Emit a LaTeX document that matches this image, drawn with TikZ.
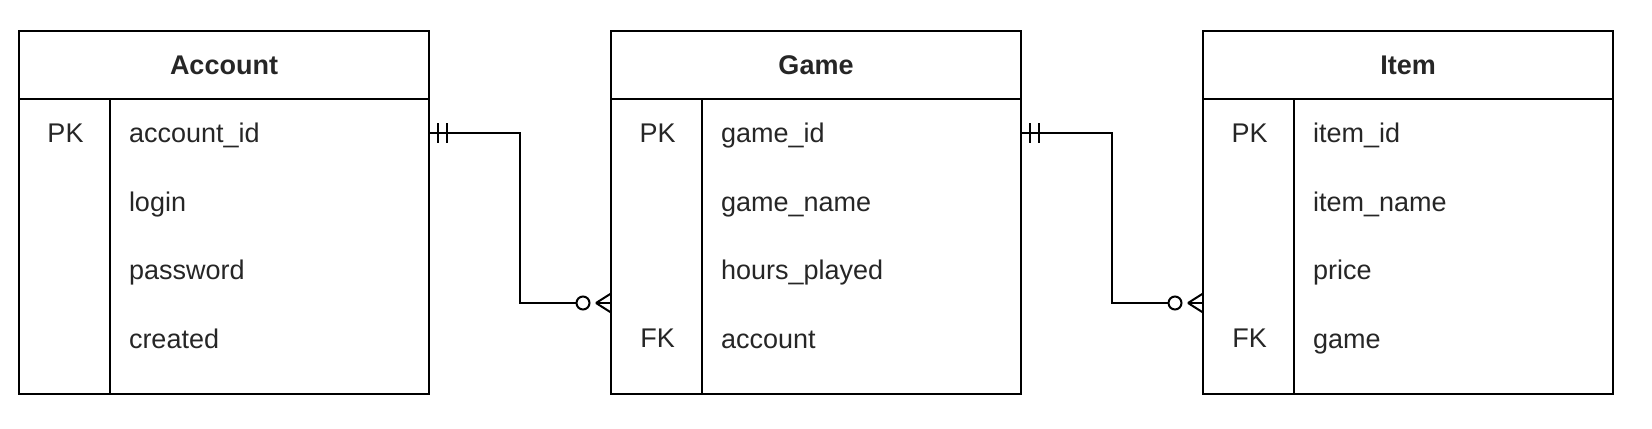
\documentclass[tikz,border=0pt]{standalone}
\usepackage{fontspec}
\setmainfont{Liberation Sans}
\usetikzlibrary{calc}
\definecolor{txt}{HTML}{262626}
\begin{document}
\begin{tikzpicture}[x=0.5pt,y=-0.5pt,
  line width=1pt,
  tbl/.style={draw, line width=1pt, minimum width=205pt, minimum height=181.5pt, inner sep=0pt, outer sep=0pt},
  ttl/.style={font=\fontsize{13.5}{16}\selectfont\bfseries, text=txt, inner sep=0pt, anchor=base},
  keycell/.style={font=\fontsize{13.5}{16}\selectfont, text=txt, inner sep=0pt, anchor=center},
  fld/.style={font=\fontsize{13.5}{16}\selectfont, text=txt, inner sep=0pt, anchor=base west},
  sep/.style={line width=1pt},
  conn/.style={line width=1pt},
  circ/.style={draw, fill=white, line width=1pt, circle, inner sep=0pt, minimum size=6.5pt},
]
\useasboundingbox (0,0) rectangle (1652,428);

% ---------- Account ----------
\node[tbl] (acc) at (224,212.5) {};
\draw[sep] ($(acc.north west)+(0,68)$) -- ($(acc.north east)+(0,68)$);
\draw[sep] ($(acc.north west)+(91,68)$) -- ($(acc.south west)+(91,0)$);
\node[ttl] (accT) at (224,74) {Account};
\node[keycell] (accPK) at (65.5,133) {PK};
\node[fld] (accF1) at (128,142.5) {account\_id};
\node[fld] (accF2) at (128,211) {login};
\node[fld] (accF3) at (128,279.5) {password};
\node[fld] (accF4) at (128,348) {created};

% ---------- Game ----------
\node[tbl] (game) at (816,212.5) {};
\draw[sep] ($(game.north west)+(0,68)$) -- ($(game.north east)+(0,68)$);
\draw[sep] ($(game.north west)+(91,68)$) -- ($(game.south west)+(91,0)$);
\node[ttl] (gameT) at (816,74) {Game};
\node[keycell] (gamePK) at (657.5,133) {PK};
\node[keycell] (gameFK) at (657.5,338) {FK};
\node[fld] (gameF1) at (720,142.5) {game\_id};
\node[fld] (gameF2) at (720,211) {game\_name};
\node[fld] (gameF3) at (720,279.5) {hours\_played};
\node[fld] (gameF4) at (720,348) {account};

% ---------- Item ----------
\node[tbl] (item) at (1408,212.5) {};
\draw[sep] ($(item.north west)+(0,68)$) -- ($(item.north east)+(0,68)$);
\draw[sep] ($(item.north west)+(91,68)$) -- ($(item.south west)+(91,0)$);
\node[ttl] (itemT) at (1408,74) {Item};
\node[keycell] (itemPK) at (1249.5,133) {PK};
\node[keycell] (itemFK) at (1249.5,338) {FK};
\node[fld] (itemF1) at (1312,142.5) {item\_id};
\node[fld] (itemF2) at (1312,211) {item\_name};
\node[fld] (itemF3) at (1312,279.5) {price};
\node[fld] (itemF4) at (1312,348) {game};

% ---------- Connector Account -> Game ----------
\coordinate (a1) at (acc.east |- accPK);
\coordinate (g1) at ($(game.north west)+(0,272)$);
\draw[conn] (a1) -- ++(91,0) |- ($(g1)+(-34.5,0)$);
\draw[conn] ($(a1)+(9,-10)$) -- ($(a1)+(9,10)$);
\draw[conn] ($(a1)+(18,-10)$) -- ($(a1)+(18,10)$);
\draw[conn] ($(g1)+(-15,0)$) -- ($(g1)+(0,-9.5)$);
\draw[conn] ($(g1)+(-15,0)$) -- (g1);
\draw[conn] ($(g1)+(-15,0)$) -- ($(g1)+(0,9.5)$);
\node[circ] (c1) at ($(g1)+(-28,0)$) {};

% ---------- Connector Game -> Item ----------
\coordinate (a2) at (game.east |- gamePK);
\coordinate (g2) at ($(item.north west)+(0,272)$);
\draw[conn] (a2) -- ++(91,0) |- ($(g2)+(-34.5,0)$);
\draw[conn] ($(a2)+(9,-10)$) -- ($(a2)+(9,10)$);
\draw[conn] ($(a2)+(18,-10)$) -- ($(a2)+(18,10)$);
\draw[conn] ($(g2)+(-15,0)$) -- ($(g2)+(0,-9.5)$);
\draw[conn] ($(g2)+(-15,0)$) -- (g2);
\draw[conn] ($(g2)+(-15,0)$) -- ($(g2)+(0,9.5)$);
\node[circ] (c2) at ($(g2)+(-28,0)$) {};
\end{tikzpicture}
\end{document}
